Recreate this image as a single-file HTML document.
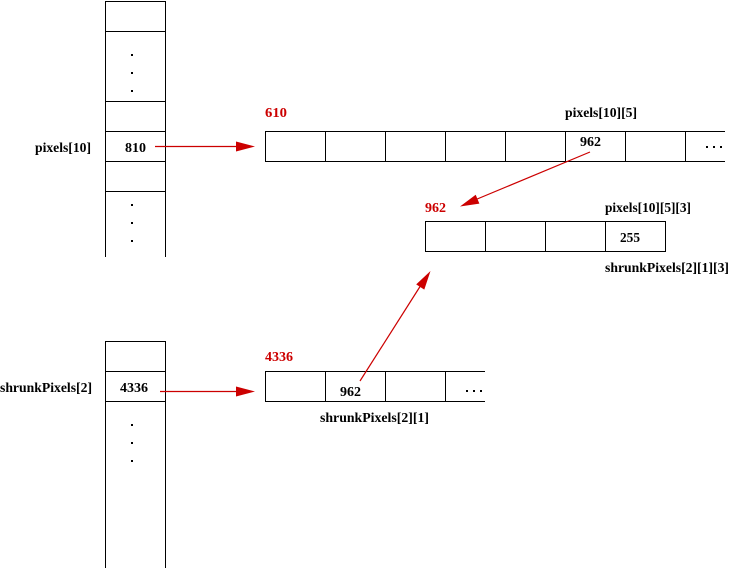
<!DOCTYPE html>
<html>
<head>
<meta charset="utf-8">
<style>
  html, body { margin: 0; padding: 0; background: #fff; }
  body { width: 740px; height: 568px; overflow: hidden; }
  svg { display: block; }
  text { font-family: "Liberation Serif", "DejaVu Serif", serif; font-size: 14px; font-weight: bold; }
  .r { fill: #cc0000; }
  .k { fill: #000; }
</style>
</head>
<body>
<svg width="740" height="568" viewBox="0 0 740 568" xmlns="http://www.w3.org/2000/svg">
  <g stroke="#000" stroke-width="1" fill="none" shape-rendering="crispEdges">
    <!-- left column 1 -->
    <line x1="105.5" y1="1" x2="105.5" y2="257"/>
    <line x1="165.5" y1="1" x2="165.5" y2="257"/>
    <line x1="105" y1="1.5" x2="166" y2="1.5"/>
    <line x1="105" y1="31.5" x2="166" y2="31.5"/>
    <line x1="105" y1="101.5" x2="166" y2="101.5"/>
    <line x1="105" y1="131.5" x2="166" y2="131.5"/>
    <line x1="105" y1="161.5" x2="166" y2="161.5"/>
    <line x1="105" y1="191.5" x2="166" y2="191.5"/>

    <!-- top array -->
    <line x1="265" y1="131.5" x2="725" y2="131.5"/>
    <line x1="265" y1="161.5" x2="725" y2="161.5"/>
    <line x1="265.5" y1="131" x2="265.5" y2="162"/>
    <line x1="325.5" y1="131" x2="325.5" y2="162"/>
    <line x1="385.5" y1="131" x2="385.5" y2="162"/>
    <line x1="445.5" y1="131" x2="445.5" y2="162"/>
    <line x1="505.5" y1="131" x2="505.5" y2="162"/>
    <line x1="565.5" y1="131" x2="565.5" y2="162"/>
    <line x1="625.5" y1="131" x2="625.5" y2="162"/>
    <line x1="685.5" y1="131" x2="685.5" y2="162"/>

    <!-- second array -->
    <line x1="425" y1="221.5" x2="666" y2="221.5"/>
    <line x1="425" y1="251.5" x2="666" y2="251.5"/>
    <line x1="425.5" y1="221" x2="425.5" y2="252"/>
    <line x1="485.5" y1="221" x2="485.5" y2="252"/>
    <line x1="545.5" y1="221" x2="545.5" y2="252"/>
    <line x1="605.5" y1="221" x2="605.5" y2="252"/>
    <line x1="665.5" y1="221" x2="665.5" y2="252"/>

    <!-- left column 2 -->
    <line x1="105.5" y1="341" x2="105.5" y2="568"/>
    <line x1="165.5" y1="341" x2="165.5" y2="568"/>
    <line x1="105" y1="341.5" x2="166" y2="341.5"/>
    <line x1="105" y1="371.5" x2="166" y2="371.5"/>
    <line x1="105" y1="401.5" x2="166" y2="401.5"/>

    <!-- bottom array -->
    <line x1="265" y1="371.5" x2="485" y2="371.5"/>
    <line x1="265" y1="401.5" x2="485" y2="401.5"/>
    <line x1="265.5" y1="371" x2="265.5" y2="402"/>
    <line x1="325.5" y1="371" x2="325.5" y2="402"/>
    <line x1="385.5" y1="371" x2="385.5" y2="402"/>
    <line x1="445.5" y1="371" x2="445.5" y2="402"/>
  </g>

  <!-- dots in columns -->
  <g fill="#000">
    <rect x="131" y="54" width="2" height="2"/>
    <rect x="131" y="72" width="2" height="2"/>
    <rect x="131" y="90" width="2" height="2"/>
    <rect x="131" y="204" width="2" height="2"/>
    <rect x="131" y="222" width="2" height="2"/>
    <rect x="131" y="240" width="2" height="2"/>
    <rect x="131" y="424" width="2" height="2"/>
    <rect x="131" y="442" width="2" height="2"/>
    <rect x="131" y="460" width="2" height="2"/>
    <!-- ellipsis top right -->
    <rect x="706" y="146" width="2" height="2"/>
    <rect x="713" y="146" width="2" height="2"/>
    <rect x="720" y="146" width="2" height="2"/>
    <!-- ellipsis bottom -->
    <rect x="466" y="390" width="2" height="2"/>
    <rect x="473" y="390" width="2" height="2"/>
    <rect x="480" y="390" width="2" height="2"/>
  </g>

  <!-- red arrows -->
  <g stroke="#cc0000" stroke-width="1.2" fill="none">
    <line x1="155" y1="146.5" x2="240" y2="146.5"/>
    <line x1="160" y1="391.5" x2="240" y2="391.5"/>
    <line x1="590" y1="152" x2="476" y2="199.5"/>
    <line x1="360" y1="381" x2="421" y2="285"/>
  </g>
  <g fill="#cc0000">
    <polygon points="236,141.5 255,146.5 236,151.5"/>
    <polygon points="236,386.5 255,391.5 236,396.5"/>
    <g transform="translate(460,206.5) rotate(157.45)"><polygon points="0,0 -19,-4.8 -19,4.8"/></g>
    <g transform="translate(430.5,271) rotate(-57.3)"><polygon points="0,0 -19,-4.8 -19,4.8"/></g>
  </g>

  <!-- labels -->
  <text class="k" x="35" y="152" textLength="56" lengthAdjust="spacingAndGlyphs">pixels[10]</text>
  <text class="k" x="125" y="152" textLength="21" lengthAdjust="spacingAndGlyphs">810</text>
  <text class="r" x="265" y="117" textLength="22" lengthAdjust="spacingAndGlyphs">610</text>
  <text class="k" x="565" y="117" textLength="72" lengthAdjust="spacingAndGlyphs">pixels[10][5]</text>
  <text class="k" x="580" y="146" textLength="21" lengthAdjust="spacingAndGlyphs">962</text>
  <text class="r" x="425" y="212" textLength="21" lengthAdjust="spacingAndGlyphs">962</text>
  <text class="k" x="605" y="212" textLength="86" lengthAdjust="spacingAndGlyphs">pixels[10][5][3]</text>
  <text class="k" x="620" y="242" textLength="20" lengthAdjust="spacingAndGlyphs">255</text>
  <text class="k" x="605" y="272" textLength="124" lengthAdjust="spacingAndGlyphs">shrunkPixels[2][1][3]</text>

  <text class="k" x="0" y="392" textLength="92" lengthAdjust="spacingAndGlyphs">shrunkPixels[2]</text>
  <text class="k" x="120" y="392" textLength="28" lengthAdjust="spacingAndGlyphs">4336</text>
  <text class="r" x="265" y="361" textLength="28" lengthAdjust="spacingAndGlyphs">4336</text>
  <text class="k" x="340" y="396" textLength="21" lengthAdjust="spacingAndGlyphs">962</text>
  <text class="k" x="320" y="422" textLength="109" lengthAdjust="spacingAndGlyphs">shrunkPixels[2][1]</text>
</svg>
</body>
</html>
